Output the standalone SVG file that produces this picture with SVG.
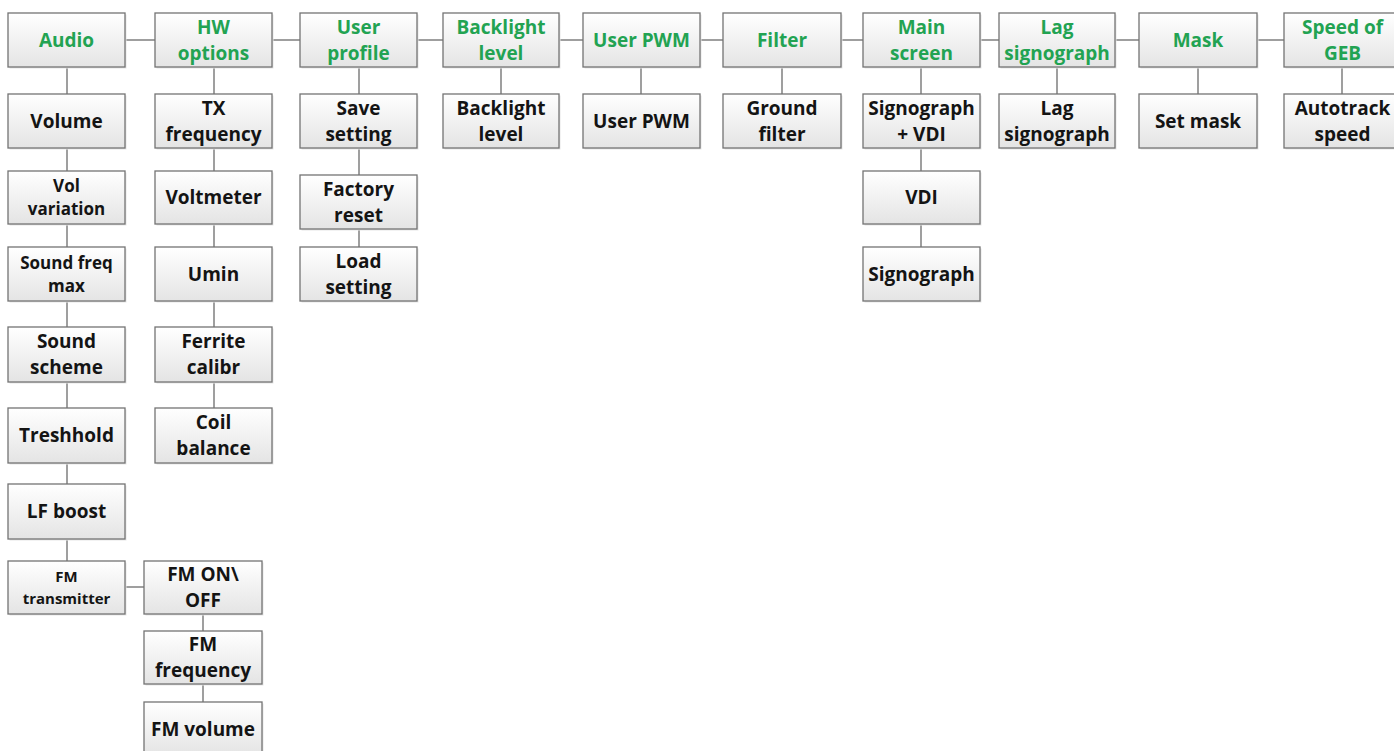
<svg xmlns="http://www.w3.org/2000/svg" width="1394" height="751" viewBox="0 0 1394 751">
<defs>
<linearGradient id="g" x1="0" y1="0" x2="0" y2="1">
<stop offset="0" stop-color="#ffffff"/>
<stop offset="1" stop-color="#e4e4e4"/>
</linearGradient>
</defs>
<style>
.b{fill:url(#g);stroke:#737373;stroke-width:1.3}
.s{fill:#e6e6e6}
text{font-family:"Open Sans","Liberation Sans",sans-serif;font-weight:700;font-size:19px;text-anchor:middle;fill:#141414}
.t{fill:#22a352}
.sm{font-size:17px}
.xs{font-size:15px}
#connectors line{stroke:#7f7f7f;stroke-width:1.5}
</style>
<rect width="1394" height="751" fill="#ffffff"/>
<g id="connectors">
<line x1="125" y1="40" x2="155" y2="40"/>
<line x1="272" y1="40" x2="300" y2="40"/>
<line x1="417" y1="40" x2="443" y2="40"/>
<line x1="559" y1="40" x2="583" y2="40"/>
<line x1="700" y1="40" x2="723" y2="40"/>
<line x1="841" y1="40" x2="863" y2="40"/>
<line x1="980" y1="40" x2="999" y2="40"/>
<line x1="1115" y1="40" x2="1139" y2="40"/>
<line x1="1257" y1="40" x2="1284" y2="40"/>
<line x1="67" y1="67" x2="67" y2="94"/>
<line x1="67" y1="148" x2="67" y2="171"/>
<line x1="67" y1="224" x2="67" y2="247"/>
<line x1="67" y1="301" x2="67" y2="327"/>
<line x1="67" y1="382" x2="67" y2="408"/>
<line x1="67" y1="463" x2="67" y2="484"/>
<line x1="67" y1="539" x2="67" y2="561"/>
<line x1="214" y1="67" x2="214" y2="94"/>
<line x1="214" y1="148" x2="214" y2="171"/>
<line x1="214" y1="224" x2="214" y2="247"/>
<line x1="214" y1="301" x2="214" y2="327"/>
<line x1="214" y1="382" x2="214" y2="408"/>
<line x1="359" y1="67" x2="359" y2="94"/>
<line x1="359" y1="148" x2="359" y2="175"/>
<line x1="359" y1="229" x2="359" y2="247"/>
<line x1="501" y1="67" x2="501" y2="94"/>
<line x1="641" y1="67" x2="641" y2="94"/>
<line x1="782" y1="67" x2="782" y2="94"/>
<line x1="921" y1="67" x2="921" y2="94"/>
<line x1="921" y1="148" x2="921" y2="171"/>
<line x1="921" y1="224" x2="921" y2="247"/>
<line x1="1057" y1="67" x2="1057" y2="94"/>
<line x1="1198" y1="67" x2="1198" y2="94"/>
<line x1="1342" y1="67" x2="1342" y2="94"/>
<line x1="125" y1="587" x2="144" y2="587"/>
<line x1="203" y1="614" x2="203" y2="631"/>
<line x1="203" y1="684" x2="203" y2="702"/>
</g>
<!-- top row -->
<g id="audio"><rect class="s" x="9.5" y="14.5" width="117" height="54"/><rect class="b" x="8" y="13" width="117" height="54"/><text class="t" x="66.5" y="46.8">Audio</text></g>
<g id="hw-options"><rect class="s" x="156.5" y="14.5" width="117" height="54"/><rect class="b" x="155" y="13" width="117" height="54"/><text class="t" x="213.5" y="33.8">HW</text><text class="t" x="213.5" y="59.8">options</text></g>
<g id="user-profile"><rect class="s" x="301.5" y="14.5" width="117" height="54"/><rect class="b" x="300" y="13" width="117" height="54"/><text class="t" x="358.5" y="33.8">User</text><text class="t" x="358.5" y="59.8">profile</text></g>
<g id="backlight-level"><rect class="s" x="444.5" y="14.5" width="116" height="54"/><rect class="b" x="443" y="13" width="116" height="54"/><text class="t" x="501" y="33.8">Backlight</text><text class="t" x="501" y="59.8">level</text></g>
<g id="user-pwm"><rect class="s" x="584.5" y="14.5" width="117" height="54"/><rect class="b" x="583" y="13" width="117" height="54"/><text class="t" x="641.5" y="46.8">User PWM</text></g>
<g id="filter"><rect class="s" x="724.5" y="14.5" width="118" height="54"/><rect class="b" x="723" y="13" width="118" height="54"/><text class="t" x="782" y="46.8">Filter</text></g>
<g id="main-screen"><rect class="s" x="864.5" y="14.5" width="117" height="54"/><rect class="b" x="863" y="13" width="117" height="54"/><text class="t" x="921.5" y="33.8">Main</text><text class="t" x="921.5" y="59.8">screen</text></g>
<g id="lag-signograph"><rect class="s" x="1000.5" y="14.5" width="116" height="54"/><rect class="b" x="999" y="13" width="116" height="54"/><text class="t" x="1057" y="33.8">Lag</text><text class="t" x="1057" y="59.8">signograph</text></g>
<g id="mask"><rect class="s" x="1140.5" y="14.5" width="118" height="54"/><rect class="b" x="1139" y="13" width="118" height="54"/><text class="t" x="1198" y="46.8">Mask</text></g>
<g id="speed-of-geb"><rect class="s" x="1285.5" y="14.5" width="117" height="54"/><rect class="b" x="1284" y="13" width="117" height="54"/><text class="t" x="1342.5" y="33.8">Speed of</text><text class="t" x="1342.5" y="59.8">GEB</text></g>
<!-- second row -->
<g id="volume"><rect class="s" x="9.5" y="95.5" width="117" height="54"/><rect class="b" x="8" y="94" width="117" height="54"/><text x="66.5" y="127.8">Volume</text></g>
<g id="tx-frequency"><rect class="s" x="156.5" y="95.5" width="117" height="54"/><rect class="b" x="155" y="94" width="117" height="54"/><text x="213.5" y="114.8">TX</text><text x="213.5" y="140.8">frequency</text></g>
<g id="save-setting"><rect class="s" x="301.5" y="95.5" width="117" height="54"/><rect class="b" x="300" y="94" width="117" height="54"/><text x="358.5" y="114.8">Save</text><text x="358.5" y="140.8">setting</text></g>
<g id="backlight-level-2"><rect class="s" x="444.5" y="95.5" width="116" height="54"/><rect class="b" x="443" y="94" width="116" height="54"/><text x="501" y="114.8">Backlight</text><text x="501" y="140.8">level</text></g>
<g id="user-pwm-2"><rect class="s" x="584.5" y="95.5" width="117" height="54"/><rect class="b" x="583" y="94" width="117" height="54"/><text x="641.5" y="127.8">User PWM</text></g>
<g id="ground-filter"><rect class="s" x="724.5" y="95.5" width="118" height="54"/><rect class="b" x="723" y="94" width="118" height="54"/><text x="782" y="114.8">Ground</text><text x="782" y="140.8">filter</text></g>
<g id="signograph-vdi"><rect class="s" x="864.5" y="95.5" width="117" height="54"/><rect class="b" x="863" y="94" width="117" height="54"/><text x="921.5" y="114.8">Signograph</text><text x="921.5" y="140.8">+ VDI</text></g>
<g id="lag-signograph-2"><rect class="s" x="1000.5" y="95.5" width="116" height="54"/><rect class="b" x="999" y="94" width="116" height="54"/><text x="1057" y="114.8">Lag</text><text x="1057" y="140.8">signograph</text></g>
<g id="set-mask"><rect class="s" x="1140.5" y="95.5" width="118" height="54"/><rect class="b" x="1139" y="94" width="118" height="54"/><text x="1198" y="127.8">Set mask</text></g>
<g id="autotrack-speed"><rect class="s" x="1285.5" y="95.5" width="117" height="54"/><rect class="b" x="1284" y="94" width="117" height="54"/><text x="1342.5" y="114.8">Autotrack</text><text x="1342.5" y="140.8">speed</text></g>
<!-- audio column -->
<g id="vol-variation"><rect class="s" x="9.5" y="172.5" width="117" height="53"/><rect class="b" x="8" y="171" width="117" height="53"/><text class="sm" x="66.5" y="192">Vol</text><text class="sm" x="66.5" y="215">variation</text></g>
<g id="sound-freq-max"><rect class="s" x="9.5" y="248.5" width="117" height="54"/><rect class="b" x="8" y="247" width="117" height="54"/><text class="sm" x="66.5" y="268.5">Sound freq</text><text class="sm" x="66.5" y="291.5">max</text></g>
<g id="sound-scheme"><rect class="s" x="9.5" y="328.5" width="117" height="55"/><rect class="b" x="8" y="327" width="117" height="55"/><text x="66.5" y="348.3">Sound</text><text x="66.5" y="374.3">scheme</text></g>
<g id="treshhold"><rect class="s" x="9.5" y="409.5" width="117" height="55"/><rect class="b" x="8" y="408" width="117" height="55"/><text x="66.5" y="442.3">Treshhold</text></g>
<g id="lf-boost"><rect class="s" x="9.5" y="485.5" width="117" height="55"/><rect class="b" x="8" y="484" width="117" height="55"/><text x="66.5" y="518.3">LF boost</text></g>
<g id="fm-transmitter"><rect class="s" x="9.5" y="562.5" width="117" height="53"/><rect class="b" x="8" y="561" width="117" height="53"/><text class="xs" x="66.5" y="582">FM</text><text class="xs" x="66.5" y="604">transmitter</text></g>
<!-- hw column -->
<g id="voltmeter"><rect class="s" x="156.5" y="172.5" width="117" height="53"/><rect class="b" x="155" y="171" width="117" height="53"/><text x="213.5" y="204.3">Voltmeter</text></g>
<g id="umin"><rect class="s" x="156.5" y="248.5" width="117" height="54"/><rect class="b" x="155" y="247" width="117" height="54"/><text x="213.5" y="280.8">Umin</text></g>
<g id="ferrite-calibr"><rect class="s" x="156.5" y="328.5" width="117" height="55"/><rect class="b" x="155" y="327" width="117" height="55"/><text x="213.5" y="348.3">Ferrite</text><text x="213.5" y="374.3">calibr</text></g>
<g id="coil-balance"><rect class="s" x="156.5" y="409.5" width="117" height="55"/><rect class="b" x="155" y="408" width="117" height="55"/><text x="213.5" y="429.3">Coil</text><text x="213.5" y="455.3">balance</text></g>
<!-- user profile column -->
<g id="factory-reset"><rect class="s" x="301.5" y="176.5" width="117" height="54"/><rect class="b" x="300" y="175" width="117" height="54"/><text x="358.5" y="195.8">Factory</text><text x="358.5" y="221.8">reset</text></g>
<g id="load-setting"><rect class="s" x="301.5" y="248.5" width="117" height="54"/><rect class="b" x="300" y="247" width="117" height="54"/><text x="358.5" y="267.8">Load</text><text x="358.5" y="293.8">setting</text></g>
<!-- main screen column -->
<g id="vdi"><rect class="s" x="864.5" y="172.5" width="117" height="53"/><rect class="b" x="863" y="171" width="117" height="53"/><text x="921.5" y="204.3">VDI</text></g>
<g id="signograph"><rect class="s" x="864.5" y="248.5" width="117" height="54"/><rect class="b" x="863" y="247" width="117" height="54"/><text x="921.5" y="280.8">Signograph</text></g>
<!-- fm column -->
<g id="fm-on-off"><rect class="s" x="145.5" y="562.5" width="118" height="53"/><rect class="b" x="144" y="561" width="118" height="53"/><text x="203" y="581.3">FM ON\</text><text x="203" y="607.3">OFF</text></g>
<g id="fm-frequency"><rect class="s" x="145.5" y="632.5" width="118" height="53"/><rect class="b" x="144" y="631" width="118" height="53"/><text x="203" y="651.3">FM</text><text x="203" y="677.3">frequency</text></g>
<g id="fm-volume"><rect class="s" x="145.5" y="703.5" width="118" height="54"/><rect class="b" x="144" y="702" width="118" height="54"/><text x="203" y="735.8">FM volume</text></g>
</svg>
